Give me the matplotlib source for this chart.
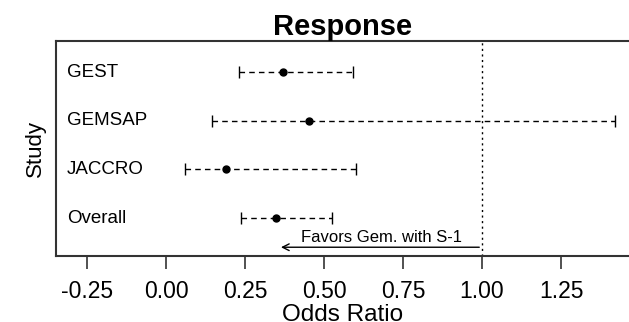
import numpy as np
import matplotlib.pyplot as plt

plt.rcParams['font.family'] = ['Liberation Sans', 'DejaVu Sans']

# data
studies = ["GEST", "GEMSAP", "JACCRO", "Overall"]
odds = [0.370, 0.454, 0.189, 0.348]
lower = [0.231, 0.145, 0.060, 0.236]
upper = [0.591, 1.421, 0.601, 0.526]
ypos = [4, 3, 2, 1]
xticks = [-0.25, 0.00, 0.25, 0.50, 0.75, 1.00, 1.25]

odds = np.array(odds)
lower = np.array(lower)
upper = np.array(upper)

fig = plt.figure(figsize=(6.29, 3.22), dpi=100)
ax = fig.add_axes([0.089, 0.205, 0.911, 0.668])

eb = ax.errorbar(odds, ypos, xerr=[odds - lower, upper - odds], fmt='o',
                 color='black', ecolor='black', markersize=5, elinewidth=1,
                 capsize=4, capthick=1)
eb[2][0].set_linestyle((0, (4, 3)))

for s, y in zip(studies, ypos):
    ax.text(-0.313, y, s, fontsize=13.5, va='center', ha='left')

# reference line at OR = 1
ax.axvline(1.0, color='black', linestyle=(0, (1.5, 2.5)), linewidth=1)

# favours arrow
ax.annotate("", xy=(0.355, 0.40), xytext=(1.0, 0.40),
            arrowprops=dict(arrowstyle='->', color='black', lw=1,
                            mutation_scale=12))
ax.text(0.683, 0.45, "Favors Gem. with S-1", fontsize=12, ha='center',
        va='bottom')

ax.set_xlim(-0.348, 1.465)
ax.set_ylim(0.22, 4.64)
ax.set_xticks(xticks)
ax.set_xticklabels(["%.2f" % t for t in xticks])
ax.set_yticks([])
ax.tick_params(axis='x', length=9, width=1.2, pad=8, labelsize=16.5,
               color='#333333')

for sp in ['top', 'bottom', 'left']:
    ax.spines[sp].set_linewidth(1.5)
    ax.spines[sp].set_color('#333333')
ax.spines['right'].set_visible(False)

ax.set_title("Response", fontsize=21, fontweight='bold', pad=1)
ax.set_ylabel("Study", fontsize=16, labelpad=7)
ax.set_xlabel("Odds Ratio", fontsize=17.5, labelpad=1)

fig.savefig("out.png", dpi=100)
